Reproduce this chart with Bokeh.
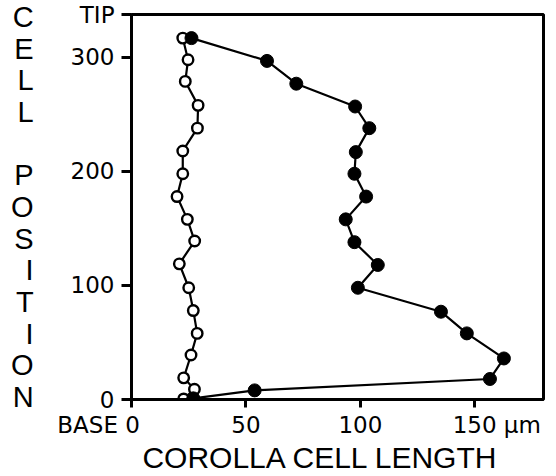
from bokeh.plotting import figure
from bokeh.models import Range1d, FixedTicker
from bokeh.embed import file_html
from bokeh.resources import INLINE

# ---- data ----
filled_length = [26.2, 59.2, 72.0, 97.7, 103.9, 98.0, 97.4, 102.5, 93.6, 97.4,
                 107.6, 98.9, 135.2, 146.5, 162.7, 156.6, 53.8, 27.0]
filled_position = [317, 297, 277, 257, 238, 217, 198, 178, 158, 138,
                   118, 98, 77, 58, 36, 18, 8, 1]
open_length = [22.4, 24.7, 23.5, 29.1, 28.8, 22.4, 22.4, 19.9, 24.4, 27.6,
               20.9, 25.0, 27.0, 28.7, 26.0, 22.8, 27.5, 22.8]
open_position = [317, 298, 279, 258, 238, 218, 198, 178, 158, 139,
                 119, 98, 78, 58, 39, 19, 9, 0.5]
x_ticks = [0, 50, 100, 150]
y_ticks = [0, 100, 200, 300]
x_title = "COROLLA CELL LENGTH"
y_title = "CELL POSITION"
unit_text = "μm"
tip_text = "TIP"
base_text = "BASE"

# ---- layout ----
W, H = 556, 476
L, R, T, B = 131, 13, 14, 77
X_END, Y_END = 180.0, 337.7
NB = "\u00a0"

p = figure(width=W, height=H, output_backend="svg", toolbar_location=None,
           x_range=Range1d(0, X_END), y_range=Range1d(0, Y_END),
           min_border_left=L, min_border_right=R, min_border_top=T, min_border_bottom=B)
p.background_fill_color = "white"
p.border_fill_color = "white"
p.xgrid.visible = False
p.ygrid.visible = False
p.outline_line_color = "black"
p.outline_line_width = 3

for ax in (p.xaxis, p.yaxis):
    ax.axis_line_color = "black"
    ax.axis_line_width = 3
    ax.major_tick_line_color = "black"
    ax.major_tick_line_width = 3
    ax.major_tick_in = 0
    ax.minor_tick_line_color = None
    ax.major_label_text_font = "DejaVu Sans"
    ax.major_label_text_font_size = "23px"
    ax.major_label_text_color = "black"
    ax.axis_label_text_color = "black"
    ax.axis_label_text_font = "Liberation Sans"
    ax.axis_label_text_font_style = "normal"

# x axis: ticks, with BASE beside 0 and the unit beside 150
p.xaxis.ticker = FixedTicker(ticks=x_ticks)
x_over = {t: str(t) for t in x_ticks}
x_over[x_ticks[0]] = base_text + " " + str(x_ticks[0]) + NB * 9
x_over[x_ticks[-1]] = NB * 6 + str(x_ticks[-1]) + " " + unit_text
p.xaxis.major_label_overrides = x_over
p.xaxis.major_tick_out = 8
p.xaxis.major_label_standoff = 4
p.xaxis.axis_label = x_title + NB * 4
p.xaxis.axis_label_text_font_size = "30px"
p.xaxis.axis_label_standoff = 0

# y axis: ticks, with TIP at the top of the frame
tip_pos = Y_END - 0.1
p.yaxis.ticker = FixedTicker(ticks=y_ticks + [tip_pos])
y_over = {t: str(t) for t in y_ticks}
y_over[tip_pos] = tip_text
p.yaxis.major_label_overrides = y_over
p.yaxis.major_tick_out = 10
p.yaxis.major_label_standoff = 7
p.yaxis.axis_label = "\n".join(list(y_title))
p.yaxis.axis_label_orientation = "horizontal"
p.yaxis.axis_label_text_font_size = "29px"
p.yaxis.axis_label_text_line_height = 0.99
p.yaxis.axis_label_standoff = 34

# lines and markers
p.line(open_length, open_position, line_color="black", line_width=2.2)
p.scatter(open_length, open_position, marker="circle", size=10.5,
          fill_color="white", line_color="black", line_width=2.4)
p.line(filled_length, filled_position, line_color="black", line_width=2.2)
p.scatter(filled_length, filled_position, marker="circle", size=13,
          fill_color="black", line_color="black")

open("out.html", "w").write(file_html(p, INLINE))
